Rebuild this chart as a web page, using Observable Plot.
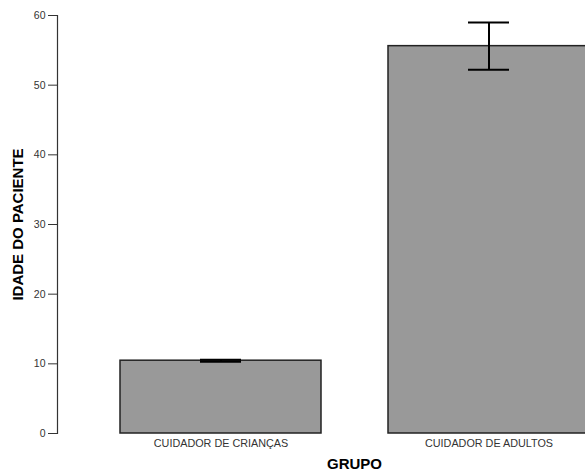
<!DOCTYPE html>
<html>
<head>
<meta charset="utf-8">
<script src="https://cdn.jsdelivr.net/npm/d3@7"></script>
<script src="https://cdn.jsdelivr.net/npm/@observablehq/plot@0.6"></script>
<style>
  html, body { margin: 0; padding: 0; background: #fff; overflow: hidden; }
</style>
</head>
<body>
<div id="chart"></div>
<script>
const categories = ["CUIDADOR DE CRIANÇAS", "CUIDADOR DE ADULTOS"];
const means = [10.45, 55.6];
const lower = [10.3, 52.2];
const upper = [10.6, 59.0];
const yTicks = [0, 10, 20, 30, 40, 50, 60];
const xTitle = "GRUPO";
const yTitle = "IDADE DO PACIENTE";

const data = categories.map((c, i) => ({cat: c, mean: means[i], lo: lower[i], hi: upper[i]}));

const chart = Plot.plot({
  width: 585,
  height: 475,
  marginTop: 15,
  marginBottom: 42,
  marginLeft: 57,
  marginRight: 0,
  style: {fontFamily: "'Liberation Sans', Arial, sans-serif", background: "#fff", overflow: "visible"},
  x: {domain: categories, range: [52.5, 655.5], padding: 0.25},
  y: {domain: [0, 60]},
  marks: [
    Plot.barY(data, {x: "cat", y: "mean", fill: "#999999", stroke: "#222", strokeWidth: 1.5}),
    Plot.ruleX(data, {x: "cat", y1: "lo", y2: "hi", stroke: "#000", strokeWidth: 2}),
    Plot.tickY(data, {x: "cat", y: "lo", insetLeft: 80, insetRight: 80, stroke: "#000", strokeWidth: 2}),
    Plot.tickY(data, {x: "cat", y: "hi", insetLeft: 80, insetRight: 80, stroke: "#000", strokeWidth: 2}),
    Plot.frame({anchor: "left", stroke: "#333", strokeWidth: 1.2}),
    Plot.axisY({ticks: yTicks, tickSize: 9, tickPadding: 3, label: null, fontSize: 10.5, color: "#333", stroke: "#333"}),
    Plot.axisX({tickSize: 0, tickPadding: 6, label: null, fontSize: 10.8, color: "#333"}),
    Plot.text([yTitle], {frameAnchor: "left", dx: -39, rotate: -90, textAnchor: "middle", lineAnchor: "middle", fontSize: 15, fontWeight: "bold", fill: "#000"}),
    Plot.text([xTitle], {frameAnchor: "bottom", dx: 33, dy: 31, textAnchor: "middle", lineAnchor: "middle", fontSize: 15, fontWeight: "bold", fill: "#000"})
  ]
});
document.getElementById("chart").append(chart);
</script>
</body>
</html>
